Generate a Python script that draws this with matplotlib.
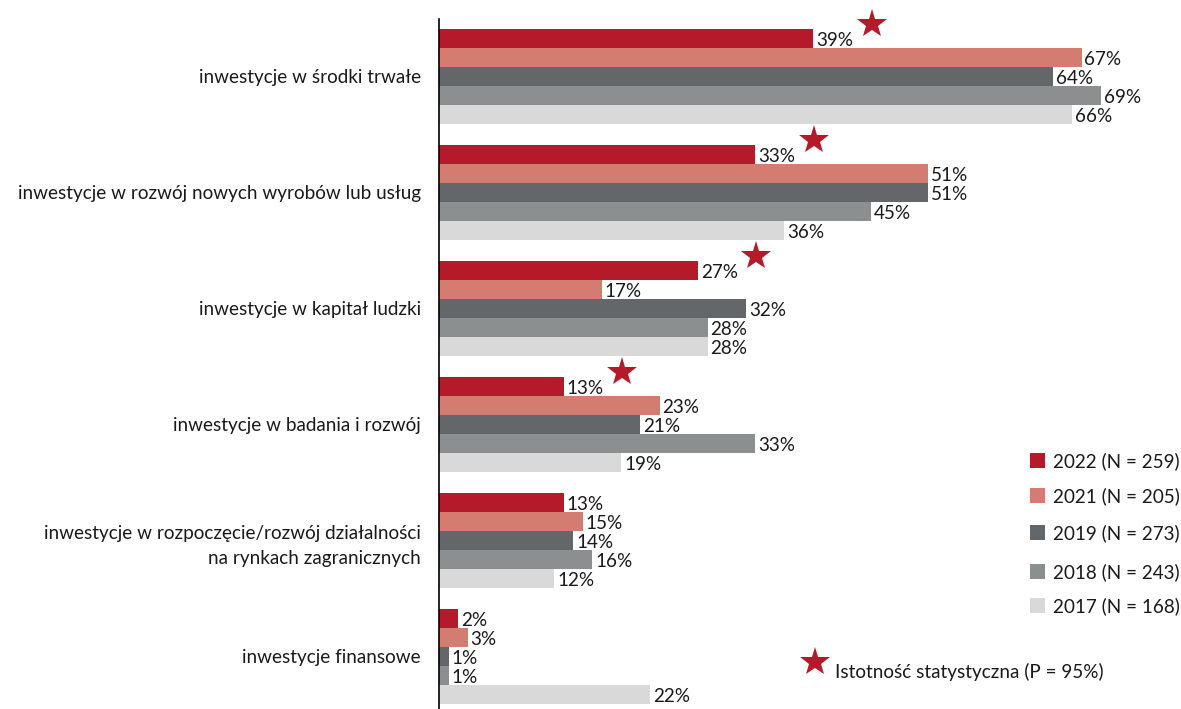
import matplotlib
matplotlib.use('Agg')
import matplotlib.pyplot as plt
from matplotlib.patches import Rectangle
from matplotlib.lines import Line2D

plt.rcParams['font.family'] = ['Lato', 'DejaVu Sans']

categories = [
    'inwestycje w środki trwałe',
    'inwestycje w rozwój nowych wyrobów lub usług',
    'inwestycje w kapitał ludzki',
    'inwestycje w badania i rozwój',
    'inwestycje w rozpoczęcie/rozwój działalności\nna rynkach zagranicznych',
    'inwestycje finansowe',
]
series_labels = ['2022 (N = 259)', '2021 (N = 205)', '2019 (N = 273)',
                 '2018 (N = 243)', '2017 (N = 168)']
values_2022 = [39, 33, 27, 13, 13, 2]
values_2021 = [67, 51, 17, 23, 15, 3]
values_2019 = [64, 51, 32, 21, 14, 1]
values_2018 = [69, 45, 28, 33, 16, 1]
values_2017 = [66, 36, 28, 19, 12, 22]
significant_2022 = [True, True, True, True, False, False]
star_label = 'Istotność statystyczna (P = 95%)'

series = [values_2022, values_2021, values_2019, values_2018, values_2017]
colors = ['#B51A2B', '#D47C70', '#63676A', '#8C8F8F', '#D9D9D9']
text_color = '#1a1a1a'
fs = 13.6

W, H = 1181, 709
fig = plt.figure(figsize=(W / 100, H / 100), dpi=100)
ax = fig.add_axes([439 / W, 0, (W - 439) / W, (709 - 19) / H])

group_step = 116 / 19
for s, (vals, col) in enumerate(zip(series, colors)):
    ys = [g * group_step + s for g in range(len(categories))]
    ax.barh(ys, vals, height=1.0, color=col, linewidth=0)
    for y, v in zip(ys, vals):
        ax.text(v + 0.3, y + 0.1, f'{v}%', va='center', ha='left',
                fontsize=fs, color=text_color)

# stars next to significant 2022 values
for g, (v, sig) in enumerate(zip(values_2022, significant_2022)):
    if sig:
        ax.plot(v + 6.1, g * group_step - 0.75, marker='*', markersize=22,
                color='#B51A2B', markeredgewidth=0, clip_on=False)

centers = [g * group_step + 2 for g in range(len(categories))]
ax.set_yticks(centers)
ax.set_yticklabels(categories, fontsize=fs, color=text_color, linespacing=1.55)
ax.tick_params(axis='y', length=0, pad=13)
ax.set_xticks([])
ax.set_xlim(0, (W - 439) / 9.59)
ax.set_ylim(35.29, -1.026)
for side in ['top', 'right', 'bottom']:
    ax.spines[side].set_visible(False)
ax.spines['left'].set_color('#000000')
ax.spines['left'].set_linewidth(1.2)

# legend drawn by hand
leg_y = [461, 496, 533, 572, 606]
for lab, col, yp in zip(series_labels, colors, leg_y):
    fig.patches.append(Rectangle(((1030) / W, 1 - (yp + 7) / H), 15 / W, 15 / H,
                                 transform=fig.transFigure, color=col, linewidth=0))
    fig.text(1053 / W, 1 - yp / H, lab, ha='left', va='center',
             fontsize=fs, color=text_color)

fig.add_artist(Line2D([815 / W], [1 - 662 / H], marker='*', markersize=22,
                      color='#B51A2B', markeredgewidth=0, transform=fig.transFigure))
fig.text(835 / W, 1 - 672 / H, star_label, ha='left', va='center',
         fontsize=fs, color=text_color)

fig.savefig('out.png', dpi=100)
